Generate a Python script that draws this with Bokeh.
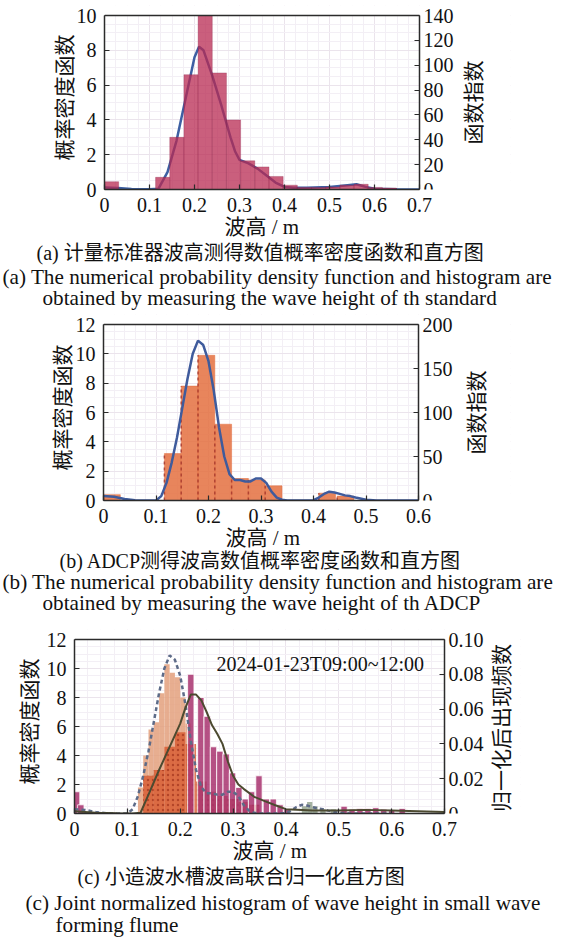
import math
from bokeh.plotting import figure
from bokeh.models import Range1d, LinearAxis, FixedTicker, Label, Title, BoxAnnotation
from bokeh.embed import file_html
from bokeh.resources import INLINE

SERIF = "Liberation Serif, Noto Sans CJK SC"
PAGE_W = 564
TOP_PAD = 10  # extra frame height above the drawn box so the top right tick label shows

# ---------------- data: panel (a) standard gauge ----------------
a_bin_left = [0.0, 0.1135, 0.145, 0.1765, 0.208, 0.2395, 0.271, 0.3025, 0.334, 0.3655,
              0.397, 0.4285, 0.46, 0.4915, 0.523, 0.5545, 0.586, 0.6175]
a_bin_width = 0.0315
a_bin_density = [0.45, 0.7, 3.0, 6.6, 10.0, 6.7, 4.0, 1.65, 1.3, 0.75,
                 0.25, 0.12, 0.12, 0.15, 0.25, 0.3, 0.12, 0.08]
a_pdf_x = [0.0, 0.03, 0.06, 0.1, 0.12, 0.14, 0.16, 0.18, 0.2, 0.21, 0.22, 0.24, 0.26,
           0.28, 0.29, 0.3, 0.32, 0.34, 0.36, 0.38, 0.4, 0.42, 0.45, 0.5, 0.54, 0.56,
           0.58, 0.6, 0.65, 0.7]
a_pdf_y = [0.12, 0.08, 0.03, 0.02, 0.05, 1.0, 2.8, 5.2, 7.6, 8.2, 8.0, 6.5, 4.8,
           3.0, 2.2, 1.7, 1.5, 1.2, 0.8, 0.4, 0.15, 0.1, 0.1, 0.15, 0.25, 0.3,
           0.15, 0.05, 0.02, 0.0]
a_x_ticks = [0.0, 0.1, 0.2, 0.3, 0.4, 0.5, 0.6, 0.7]
a_x_labels = ["0", "0.1", "0.2", "0.3", "0.4", "0.5", "0.6", "0.7"]
a_y_ticks = [0, 2, 4, 6, 8, 10]
a_r_ticks = [0, 20, 40, 60, 80, 100, 120, 140]

# ---------------- data: panel (b) ADCP ----------------
b_bin_left = [0.0, 0.116, 0.148, 0.180, 0.212, 0.244, 0.276, 0.308, 0.410, 0.445]
b_bin_width = 0.032
b_bin_density = [0.4, 3.2, 7.8, 9.9, 5.2, 1.5, 1.4, 1.0, 0.5, 0.3]
b_pdf_x = [0.0, 0.02, 0.04, 0.06, 0.08, 0.1, 0.11, 0.12, 0.13, 0.14, 0.15, 0.16, 0.17,
           0.18, 0.19, 0.2, 0.21, 0.22, 0.23, 0.24, 0.25, 0.26, 0.27, 0.28, 0.29, 0.3,
           0.31, 0.32, 0.33, 0.34, 0.35, 0.38, 0.4, 0.41, 0.42, 0.43, 0.44, 0.45, 0.46,
           0.47, 0.48, 0.5, 0.52, 0.55, 0.6]
b_pdf_y = [0.3, 0.25, 0.1, 0.02, 0.0, 0.0, 0.3, 1.2, 2.6, 4.3, 6.3, 8.3, 10.0,
           10.9, 10.6, 9.5, 7.5, 5.0, 3.0, 1.8, 1.4, 1.4, 1.3, 1.3, 1.5, 1.5,
           1.2, 0.6, 0.2, 0.05, 0.0, 0.0, 0.02, 0.2, 0.45, 0.6, 0.55, 0.45, 0.35,
           0.3, 0.2, 0.05, 0.0, 0.0, 0.0]
b_x_ticks = [0.0, 0.1, 0.2, 0.3, 0.4, 0.5, 0.6]
b_x_labels = ["0", "0.1", "0.2", "0.3", "0.4", "0.5", "0.6"]
b_y_ticks = [0, 2, 4, 6, 8, 10, 12]
b_r_ticks = [0, 50, 100, 150, 200]

# ---------------- data: panel (c) joint normalized ----------------
c_tan_x = [0.125, 0.135, 0.145, 0.155, 0.165, 0.175, 0.185, 0.195, 0.205, 0.215]
c_tan_h = [1.8, 4.0, 5.8, 6.3, 8.3, 10.3, 9.7, 9.4, 8.0, 6.2]
c_org_x = [0.14, 0.16, 0.18, 0.20, 0.22, 0.24, 0.26, 0.28, 0.30, 0.32, 0.34]
c_org_h = [2.6, 3.0, 4.6, 5.6, 4.8, 2.2, 1.5, 1.2, 1.0, 0.8, 0.6]
c_mag_x = [0.004, 0.012, 0.220, 0.239, 0.251, 0.263, 0.275, 0.287, 0.299, 0.311,
           0.323, 0.335, 0.349, 0.363, 0.376, 0.389, 0.402, 0.510, 0.525, 0.540,
           0.555, 0.570, 0.585, 0.600, 0.620]
c_mag_h = [1.5, 0.6, 9.6, 8.0, 6.7, 4.6, 4.3, 4.1, 2.8, 1.8,
           1.0, 1.5, 2.6, 1.0, 1.0, 0.6, 0.3, 0.5, 0.3, 0.35,
           0.35, 0.4, 0.3, 0.25, 0.35]
c_grn_x = [0.435, 0.445, 0.455, 0.47, 0.49]
c_grn_h = [0.5, 0.8, 0.5, 0.3, 0.3]
c_pdf_x = [0.0, 0.04, 0.08, 0.11, 0.125, 0.14, 0.16, 0.18, 0.2, 0.21, 0.22, 0.23,
           0.24, 0.25, 0.26, 0.27, 0.28, 0.29, 0.3, 0.31, 0.32, 0.34, 0.36, 0.38,
           0.4, 0.45, 0.5, 0.55, 0.6, 0.65, 0.7]
c_pdf_y = [0.15, 0.05, 0.02, 0.0, 0.05, 1.3, 3.0, 4.6, 6.2, 7.3, 8.2, 8.2,
           7.8, 7.0, 6.1, 5.5, 4.8, 3.6, 2.6, 2.0, 1.7, 1.15, 0.85, 0.57,
           0.3, 0.2, 0.2, 0.25, 0.2, 0.15, 0.1]
c_x_ticks = [0.0, 0.1, 0.2, 0.3, 0.4, 0.5, 0.6, 0.7]
c_x_labels = ["0", "0.1", "0.2", "0.3", "0.4", "0.5", "0.6", "0.7"]
c_y_ticks = [0, 2, 4, 6, 8, 10, 12]
c_r_ticks = [0.0, 0.02, 0.04, 0.06, 0.08, 0.10]
c_r_labels = ["0", "0.02", "0.04", "0.06", "0.08", "0.10"]


def frange(a, b, step):
    out = []
    v = a
    while v <= b + 1e-9:
        out.append(round(v, 4))
        v += step
    return out


def style_axis(ax, ticks, labels=None, minor=None):
    ax.ticker = FixedTicker(ticks=ticks, minor_ticks=minor or [])
    if labels is not None:
        ax.major_label_overrides = {t: l for t, l in zip(ticks, labels)}
    ax.axis_line_color = "#2b2b2b"
    ax.axis_line_width = 1.5
    ax.major_tick_in = 5
    ax.major_tick_out = 0
    ax.major_tick_line_color = "#2b2b2b"
    ax.major_tick_line_width = 1.2
    ax.minor_tick_line_color = None
    ax.major_label_text_font = SERIF
    ax.major_label_text_font_size = "20px"
    ax.major_label_text_color = "#111111"
    ax.major_label_standoff = 4
    ax.axis_label_text_font = SERIF
    ax.axis_label_text_font_size = "21px"
    ax.axis_label_text_font_style = "normal"
    ax.axis_label_text_color = "#111111"


class Panel:
    """One sub-figure. The plotting frame is widened to the right (and a little
    upward) so that the right-hand rotated label and the right tick labels can be
    drawn inside it; the visible box spans 0..xmax and 0..ymax."""

    def __init__(self, h, left, vis_w, frame_right, top, frame_h, xmax, ymax, rmax,
                 xt, xl, yt, rt, rl, xminor, yminor, ylab, ystand):
        self.left, self.vis_w, self.xmax = left, vis_w, xmax
        frame_w = frame_right - left
        x_end = xmax * frame_w / vis_w
        grow = (frame_h + TOP_PAD) / frame_h
        p = figure(width=PAGE_W, height=h, x_range=Range1d(0, x_end),
                   y_range=Range1d(0, ymax * grow), output_backend="svg",
                   toolbar_location=None, min_border_left=left,
                   min_border_right=PAGE_W - frame_right,
                   min_border_top=top - TOP_PAD,
                   min_border_bottom=h - top - frame_h)
        p.outline_line_color = None
        p.background_fill_color = "white"
        p.border_fill_color = "white"
        style_axis(p.xaxis[0], xt, xl, xminor)
        p.xaxis[0].bounds = (0, xmax)
        style_axis(p.yaxis[0], yt, None, yminor)
        p.yaxis[0].bounds = (0, ymax)
        p.yaxis[0].axis_label = ylab
        p.yaxis[0].axis_label_standoff = ystand
        p.xgrid.ticker = p.xaxis[0].ticker
        p.ygrid.ticker = p.yaxis[0].ticker
        for g in (p.xgrid[0], p.ygrid[0]):
            g.grid_line_color = "#ebe4ec"
            g.grid_line_width = 1
            g.minor_grid_line_color = "#f3eff5"
        # blank out the widened parts of the frame (behind axes and glyphs)
        p.add_layout(BoxAnnotation(left=xmax, fill_color="white", fill_alpha=1.0,
                                   line_color=None, level="underlay"))
        p.add_layout(BoxAnnotation(bottom=ymax, fill_color="white", fill_alpha=1.0,
                                   line_color=None, level="underlay"))
        # top edge of the box
        top_ax = LinearAxis(bounds=(0, xmax), ticker=FixedTicker(ticks=[]),
                            fixed_location=ymax)
        top_ax.axis_line_color = "#2b2b2b"
        top_ax.axis_line_width = 1.5
        top_ax.major_tick_line_color = None
        top_ax.minor_tick_line_color = None
        top_ax.major_label_text_font_size = "0px"
        p.add_layout(top_ax, "above")
        # right-hand axis at the box's right edge
        p.extra_y_ranges = {"r": Range1d(0, rmax * grow)}
        rax = LinearAxis(y_range_name="r", fixed_location=xmax, bounds=(0, rmax))
        style_axis(rax, rt, rl)
        p.add_layout(rax, "right")
        self.p = p

    def data_x(self, page_x):
        return (page_x - self.left) / self.vis_w * self.xmax

    def right_label(self, text, page_x, y):
        self.p.add_layout(Label(x=self.data_x(page_x), y=y, text=text, angle=90,
                                angle_units="deg", text_font=SERIF,
                                text_font_size="21px", text_color="#111111",
                                text_align="center", text_baseline="middle"))

    def caption(self, text, page_left, size="21.2px", standoff=-4):
        self.p.add_layout(Title(text=text, align="left", offset=page_left - self.left,
                                text_font=SERIF, text_font_size=size,
                                text_font_style="normal", text_color="#111111",
                                standoff=standoff), "below")


# ---------------- panel (a) ----------------
A = Panel(313, 104, 315, 510, 15, 174, 0.7, 10, 140,
          a_x_ticks, a_x_labels, a_y_ticks, a_r_ticks, None,
          frange(0, 0.7, 0.025), frange(0, 10, 0.5), "概率密度函数", -3)
pa = A.p
pa.line(a_pdf_x, a_pdf_y, line_color="#3d5fa3", line_width=2.5)
pa.vbar(x=[l + a_bin_width / 2 for l in a_bin_left], width=a_bin_width,
        top=a_bin_density, bottom=0, fill_color="#b82a52", fill_alpha=0.75,
        line_color="#8a2048", line_alpha=0.3, line_width=1)
A.right_label("函数指数", 473, 5.0)
A.caption("波高 / m", 224, "21px", -4)
A.caption("(a)  计量标准器波高测得数值概率密度函数和直方图", 36, "20px", 6)
A.caption("(a)  The numerical probability density function and histogram are", 2,
          "21.2px", -7)
A.caption("obtained by measuring the wave height of th standard", 42, "21.2px", -4)

# ---------------- panel (b) ----------------
B = Panel(314, 103, 315, 510, 11, 176, 0.6, 12, 200,
          b_x_ticks, b_x_labels, b_y_ticks, b_r_ticks, None,
          frange(0, 0.6, 0.02), frange(0, 12, 0.5), "概率密度函数", -2)
pb = B.p
pb.vbar(x=[l + b_bin_width / 2 for l in b_bin_left], width=b_bin_width,
        top=b_bin_density, bottom=0, fill_color="#e4703f", fill_alpha=0.85,
        line_color="#e4703f", line_alpha=0.5, line_width=1)
pb.segment(x0=b_bin_left, y0=[0] * len(b_bin_left), x1=b_bin_left, y1=b_bin_density,
           line_color="#a3332a", line_dash="3 3", line_width=1.5, line_alpha=0.8)
pb.line(b_pdf_x, b_pdf_y, line_color="#3f5b9c", line_width=2.5)
B.right_label("函数指数", 476, 6.0)
B.caption("波高 / m", 225, "21px", -4)
B.caption("(b)  ADCP测得波高数值概率密度函数和直方图", 59, "20px", 0)
B.caption("(b)  The numerical probability density function and histogram are", 2,
          "21.2px", -8)
B.caption("obtained by measuring the wave height of th ADCP", 42, "21.2px", -2)

# ---------------- panel (c) ----------------
C = Panel(312, 74, 370, 520, 12, 174, 0.7, 12, 0.1,
          c_x_ticks, c_x_labels, c_y_ticks, c_r_ticks, c_r_labels,
          frange(0, 0.7, 0.025), frange(0, 12, 0.5), "概率密度函数", 2)
pc = C.p
pc.vbar(x=c_tan_x, width=0.01, top=c_tan_h, bottom=0, fill_color="#e3a07c",
        fill_alpha=0.85, line_color=None)
pc.vbar(x=c_org_x, width=0.02, top=c_org_h, bottom=0, fill_color="#d85a30",
        fill_alpha=0.8, line_color=None, hatch_pattern="dot", hatch_color="#9a2c18",
        hatch_scale=5, hatch_alpha=0.6)
pc.vbar(x=c_mag_x, width=0.012, top=c_mag_h, bottom=0, fill_color="#a8336e",
        fill_alpha=0.85, line_color="white", line_width=0.8)
pc.vbar(x=c_grn_x, width=0.01, top=c_grn_h, bottom=0, fill_color="#8fa08a",
        fill_alpha=0.8, line_color=None)
pc.line(b_pdf_x, b_pdf_y, line_color="#5d6b88", line_width=2.5, line_dash="4 3")
pc.line(c_pdf_x, c_pdf_y, line_color="#4c4a30", line_width=2)
pc.add_layout(Label(x=0.465, y=10.3, text="2024-01-23T09:00~12:00", text_font=SERIF,
                    text_font_size="20px", text_color="#111111", text_align="center",
                    text_baseline="middle"))
C.right_label("归一化后出现频数", 501, 5.9)
C.caption("波高 / m", 232, "21px", -4)
C.caption("(c)  小造波水槽波高联合归一化直方图", 77, "20px", 6)
C.caption("(c)  Joint normalized histogram of wave height in small wave", 25, "21.2px", -4)
C.caption("forming flume", 55, "21.2px", -4)

open("out.html", "w").write(file_html([pa, pb, pc], INLINE))
